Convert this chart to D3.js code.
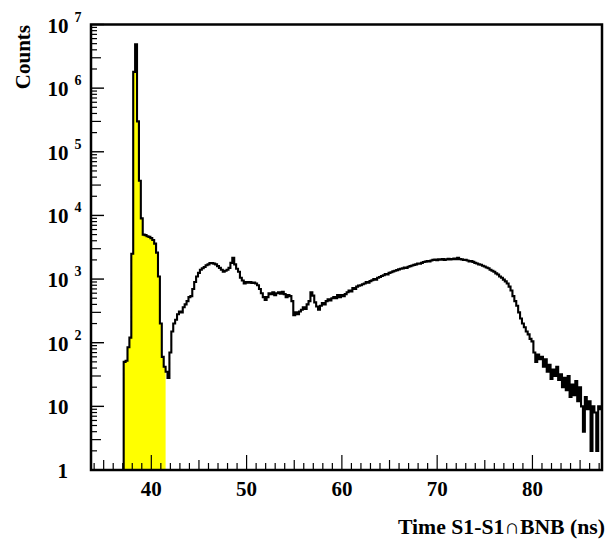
<!DOCTYPE html>
<html><head><meta charset="utf-8">
<script src="https://cdn.jsdelivr.net/npm/d3@7"></script>
<style>
html,body{margin:0;padding:0;background:#fff;}
svg{display:block;}
text{font-family:"Liberation Serif","Times New Roman",serif;font-weight:bold;fill:#000;}
</style></head>
<body>
<script>
// ---- data ----
const binStart = 37.1;      // ns, lower edge of first filled bin
const binWidth = 0.2;       // ns
const counts = [
50,52,85,120,2500,1800000,4900000,300000,35000,9000,
5000,4900,4700,4600,4400,4100,3600,2600,1100,200,
60,42,35,28,70,150,200,230,280,310,
300,360,400,450,520,540,700,900,1100,1250,
1400,1480,1550,1650,1700,1780,1790,1750,1700,1600,
1500,1400,1300,1350,1400,1500,1800,2150,1700,1450,
1300,1050,950,850,900,880,900,870,880,850,
800,700,600,520,470,520,600,580,620,560,
600,620,590,630,580,520,560,540,450,270,
300,280,310,330,360,340,400,450,620,550,
430,370,330,380,420,400,450,480,460,500,
520,500,560,520,560,540,580,620,660,640,
720,700,760,790,800,830,850,900,880,930,
960,1000,980,1050,1080,1120,1150,1200,1180,1250,
1280,1320,1350,1380,1420,1450,1470,1520,1500,1560,
1600,1630,1670,1700,1760,1740,1800,1850,1880,1920,
1900,1960,2000,2020,1980,2050,2020,2060,2000,2040,
2080,2030,2060,2100,2050,2150,2060,2040,2000,2010,
1960,1900,1920,1860,1800,1760,1700,1680,1620,1580,
1520,1480,1400,1350,1300,1230,1180,1100,1050,980,
920,850,760,660,540,450,380,300,240,200,
175,150,135,115,105,70,50,65,55,60,
42,55,35,45,27,38,30,42,26,32,
20,28,18,30,14,22,15,25,12,20,
10,4,14,9,12,2,10,8,2,10,
9,3
];
const selectedRange = [37.1, 41.5];   // yellow-filled selection (ns)
const xDomain = [33.67, 87.3];
const yDomain = [1, 1e7];
const xTickLabels = [40, 50, 60, 70, 80];
const yDecades = [0, 1, 2, 3, 4, 5, 6, 7];
const xTitle = "Time S1-S1\u2229BNB (ns)";
const yTitle = "Counts";

// ---- layout ----
const W = 606, H = 542;
const L = 91, R = 602, T = 24.5, B = 470;

const svg = d3.select("body").append("svg").attr("width", W).attr("height", H);
svg.append("rect").attr("width", W).attr("height", H).attr("fill", "#fff");

const x = d3.scaleLinear().domain(xDomain).range([L, R]);
const y = d3.scaleLog().domain(yDomain).range([B, T]).clamp(true);

svg.append("defs").append("clipPath").attr("id", "clip")
  .append("rect").attr("x", L).attr("y", T).attr("width", R - L).attr("height", B - T);

const bins = counts.map((c, i) => ({x0: binStart + i * binWidth, x1: binStart + (i + 1) * binWidth, c}));

function stepPath(data) {
  let p = `M${x(data[0].x0)},${y(1)}`;
  data.forEach(d => {
    const yy = d.c > 0 ? y(d.c) : y(1);
    p += `L${x(d.x0)},${yy}L${x(d.x1)},${yy}`;
  });
  p += `L${x(data[data.length - 1].x1)},${y(1)}`;
  return p;
}

const g = svg.append("g").attr("clip-path", "url(#clip)");
const sel = bins.filter(d => d.x0 >= selectedRange[0] - 1e-9 && d.x1 <= selectedRange[1] + 1e-9);
g.append("path").attr("d", stepPath(sel) + "Z").attr("fill", "#ffff00").attr("stroke", "none");
g.append("path").attr("d", stepPath(bins)).attr("fill", "none")
  .attr("stroke", "#000").attr("stroke-width", 2.1).attr("stroke-linejoin", "miter");

// ---- x axis ticks (inward) ----
const xTicks = d3.range(34, 88, 1);
svg.append("g").selectAll("line").data(xTicks).join("line")
  .attr("x1", d => x(d)).attr("x2", d => x(d))
  .attr("y1", B).attr("y2", d => B - (d % 10 === 0 ? 15 : d % 5 === 0 ? 10 : 7))
  .attr("stroke", "#000").attr("stroke-width", 1.2);
svg.append("g").selectAll("text").data(xTickLabels).join("text")
  .attr("x", d => x(d)).attr("y", 496).attr("text-anchor", "middle")
  .attr("font-size", 21).text(d => d);

// ---- y axis ticks (inward) ----
const yMinor = [];
for (let e = 0; e < 7; e++) for (let m = 2; m <= 9; m++) yMinor.push({v: m * Math.pow(10, e), m});
svg.append("g").selectAll("line").data(yMinor).join("line")
  .attr("x1", L).attr("x2", d => L + (d.m === 3 ? 10 : 6))
  .attr("y1", d => y(d.v)).attr("y2", d => y(d.v))
  .attr("stroke", "#000").attr("stroke-width", 1.2);
svg.append("g").selectAll("line").data(yDecades).join("line")
  .attr("x1", L).attr("x2", L + 13)
  .attr("y1", d => y(Math.pow(10, d))).attr("y2", d => y(Math.pow(10, d)))
  .attr("stroke", "#000").attr("stroke-width", 1.4);

const yl = svg.append("g");
yDecades.forEach(e => {
  const yy = y(Math.pow(10, e));
  if (e === 0) {
    yl.append("text").attr("x", 68).attr("y", yy + 7.5).attr("text-anchor", "end").attr("font-size", 21).text("1");
  } else if (e === 1) {
    yl.append("text").attr("x", 68.5).attr("y", yy + 7.5).attr("text-anchor", "end").attr("font-size", 21).text("10");
  } else {
    yl.append("text").attr("x", 68.5).attr("y", yy + 8).attr("text-anchor", "end").attr("font-size", 21).text("10");
    yl.append("text").attr("x", 74.5).attr("y", yy - 3).attr("text-anchor", "start").attr("font-size", 14).text(e);
  }
});

// ---- frame ----
svg.append("rect").attr("x", L).attr("y", T).attr("width", R - L).attr("height", B - T)
  .attr("fill", "none").attr("stroke", "#000").attr("stroke-width", 2.5);

// ---- titles ----
svg.append("text").attr("x", 605).attr("y", 534).attr("text-anchor", "end")
  .attr("font-size", 21).attr("textLength", 207).attr("lengthAdjust", "spacingAndGlyphs").text(xTitle);
svg.append("text").attr("transform", "translate(29.5,25) rotate(-90)")
  .attr("text-anchor", "end").attr("font-size", 21).text(yTitle);
</script>
</body></html>
